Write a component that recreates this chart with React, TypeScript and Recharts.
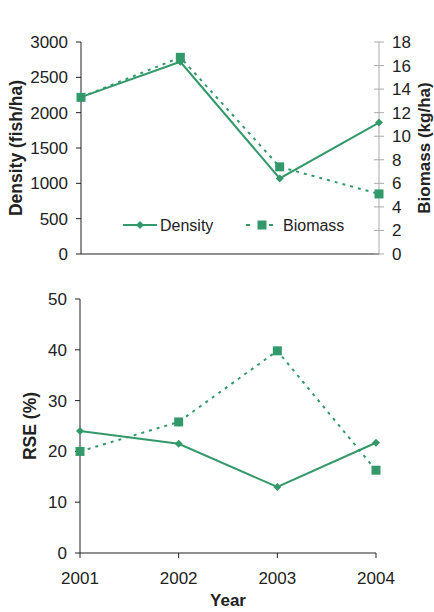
import React from 'react';
import { LineChart, Line, XAxis, YAxis, Legend } from 'recharts';

const years = ['2001', '2002', '2003', '2004'];
const density = [2220, 2720, 1070, 1860];
const biomass = [13.3, 16.7, 7.4, 5.1];
const rseDensity = [24.0, 21.5, 13.0, 21.7];
const rseBiomass = [20.0, 25.8, 39.8, 16.3];
const densityTicks = [0, 500, 1000, 1500, 2000, 2500, 3000];
const biomassTicks = [0, 2, 4, 6, 8, 10, 12, 14, 16, 18];
const rseTicks = [0, 10, 20, 30, 40, 50];

const topData = years.map((y, i) => ({ year: y, density: density[i], biomass: biomass[i] }));
const bottomData = years.map((y, i) => ({ year: y, density: rseDensity[i], biomass: rseBiomass[i] }));

const GREEN = '#33996a';
const FONT = '"Liberation Sans", Arial, sans-serif';
const TXT = '#222';

const Diamond = (props: any) => {
  const { cx, cy } = props;
  if (cx == null || cy == null) return null;
  const r = 4;
  return <polygon points={`${cx},${cy - r} ${cx + r},${cy} ${cx},${cy + r} ${cx - r},${cy}`} fill={GREEN} />;
};
const Square = (props: any) => {
  const { cx, cy } = props;
  if (cx == null || cy == null) return null;
  const s = 9;
  return <rect x={cx - s / 2} y={cy - s / 2} width={s} height={s} fill={GREEN} />;
};

const RightTick = (props: any) => {
  const { x, y, payload } = props;
  const ax = x - 13;
  return (
    <g>
      <line x1={ax - 5} x2={ax + 5} y1={y} y2={y} stroke="#aaa" strokeWidth={1} />
      <text x={x} y={y} dy={6} textAnchor="start" fontSize={17} fill={TXT} fontFamily={FONT}>
        {payload.value}
      </text>
    </g>
  );
};

const vLabel = (text: string, xpos: number, size = 17.5) => (props: any) => {
  const vb = props.viewBox;
  const cy = vb.y + vb.height / 2;
  return (
    <text
      x={xpos}
      y={cy}
      transform={`rotate(-90 ${xpos} ${cy})`}
      textAnchor="middle"
      dominantBaseline="central"
      fontSize={size}
      fontWeight="bold"
      fill={TXT}
      fontFamily={FONT}
    >
      {text}
    </text>
  );
};

const yearLabel = (props: any) => {
  const vb = props.viewBox;
  const cx = vb.x + vb.width / 2;
  return (
    <text x={cx} y={320} textAnchor="middle" dominantBaseline="central" fontSize={17} fontWeight="bold" fill={TXT} fontFamily={FONT}>
      Year
    </text>
  );
};

const LegendContent = () => (
  <svg width={260} height={24} style={{ display: 'block' }}>
    <line x1={8} x2={42} y1={12} y2={12} stroke={GREEN} strokeWidth={2} />
    <polygon points="25,8 29,12 25,16 21,12" fill={GREEN} />
    <text x={45} y={12} dy={6} fontSize={16} fill={TXT} fontFamily={FONT}>Density</text>
    <line x1={131} x2={135} y1={12} y2={12} stroke={GREEN} strokeWidth={2} />
    <rect x={142.5} y={7.5} width={9} height={9} fill={GREEN} />
    <line x1={154} x2={158} y1={12} y2={12} stroke={GREEN} strokeWidth={2} />
    <text x={168} y={12} dy={6} fontSize={16} fill={TXT} fontFamily={FONT}>Biomass</text>
  </svg>
);

const tickStyle = { fontSize: 17, fill: TXT, fontFamily: FONT };

export default function App() {
  return (
    <div style={{ position: 'absolute', left: 0, top: 0, width: 434, height: 612, background: '#fff' }}>
      <div style={{ position: 'absolute', left: 0, top: 0 }}>
        <LineChart width={434} height={280} data={topData} margin={{ top: 18, right: 0, left: 0, bottom: 0 }}>
          <XAxis
            dataKey="year"
            height={26}
            tick={false}
            tickSize={5}
            axisLine={{ stroke: TXT }}
            tickLine={{ stroke: TXT }}
          />
          <YAxis
            yAxisId="left"
            width={81}
            domain={[0, 3000]}
            ticks={densityTicks}
            interval={0}
            tick={tickStyle}
            tickSize={5}
            tickMargin={8}
            axisLine={{ stroke: TXT }}
            tickLine={{ stroke: TXT }}
            label={vLabel('Density (fish/ha)', 16)}
          />
          <YAxis
            yAxisId="right"
            orientation="right"
            width={55}
            domain={[0, 18]}
            ticks={biomassTicks}
            interval={0}
            tick={<RightTick />}
            tickSize={4}
            tickMargin={9}
            tickLine={false}
            axisLine={{ stroke: '#aaa' }}
            label={vLabel('Biomass (kg/ha)', 424, 17)}
          />
          <Legend
            verticalAlign="top"
            align="left"
            content={<LegendContent />}
            wrapperStyle={{ position: 'absolute', top: 213, left: 115, width: 260 }}
          />
          <Line
            yAxisId="left"
            dataKey="density"
            stroke={GREEN}
            strokeWidth={2}
            dot={<Diamond />}
            activeDot={false}
            isAnimationActive={false}
          />
          <Line
            yAxisId="right"
            dataKey="biomass"
            stroke={GREEN}
            strokeWidth={2}
            strokeDasharray="3 5"
            dot={<Square />}
            activeDot={false}
            isAnimationActive={false}
          />
        </LineChart>
      </div>
      <div style={{ position: 'absolute', left: 0, top: 280 }}>
        <LineChart width={434} height={332} data={bottomData} margin={{ top: 19, right: 58, left: 0, bottom: 0 }}>
          <XAxis
            dataKey="year"
            height={59}
            tick={tickStyle}
            tickSize={5}
            tickMargin={14}
            axisLine={{ stroke: TXT }}
            tickLine={{ stroke: TXT }}
            label={yearLabel}
          />
          <YAxis
            width={80}
            domain={[0, 50]}
            ticks={rseTicks}
            interval={0}
            tick={tickStyle}
            tickSize={5}
            tickMargin={8}
            axisLine={{ stroke: TXT }}
            tickLine={{ stroke: TXT }}
            label={vLabel('RSE (%)', 30)}
          />
          <Line
            dataKey="density"
            stroke={GREEN}
            strokeWidth={2}
            dot={<Diamond />}
            activeDot={false}
            isAnimationActive={false}
          />
          <Line
            dataKey="biomass"
            stroke={GREEN}
            strokeWidth={2}
            strokeDasharray="3 5"
            dot={<Square />}
            activeDot={false}
            isAnimationActive={false}
          />
        </LineChart>
      </div>
    </div>
  );
}
